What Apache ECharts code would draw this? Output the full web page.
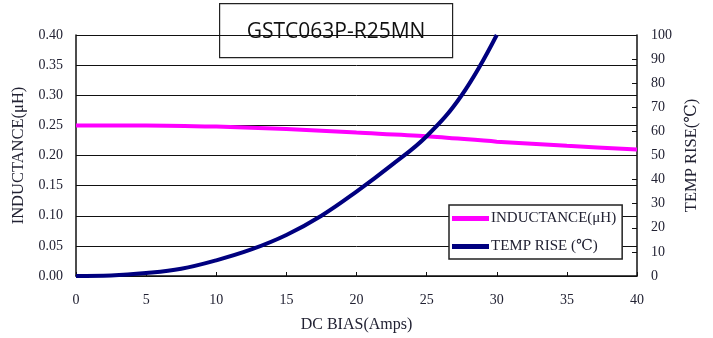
<!DOCTYPE html>
<html>
<head>
<meta charset="utf-8">
<script src="https://cdn.jsdelivr.net/npm/echarts@6/dist/echarts.min.js"></script>
<style>
html,body{margin:0;padding:0;background:#fff;}
#c{width:713px;height:338px;}
</style>
</head>
<body>
<div id="c"></div>
<script>
var chartTitle = 'GSTC063P-R25MN';
var inductanceName = 'INDUCTANCE(μH)';
var tempName = 'TEMP RISE (℃)';
var inductanceData = [[0,0.25],[5,0.25],[10,0.248],[15,0.244],[20,0.238],[25,0.232],[30,0.223],[35,0.216],[40,0.21]];
var tempData = [[0,0],[2.5,0.2],[5,1.2],[7.5,3],[10,6.5],[12.5,11],[15,17],[17.5,25],[20,35],[22.5,46],[25,58],[27.5,75],[30,100]];
var xTicks = {min:0, max:40, interval:5};
var leftTicks = {min:0, max:0.4, interval:0.05};
var rightTicks = {min:0, max:100, interval:10};

var serif = '"Liberation Serif","DejaVu Serif",serif';
var labelColor = '#222233';
var chart = echarts.init(document.getElementById('c'));
chart.setOption({
  animation:false,
  backgroundColor:'#fff',
  grid:{left:76, right:76, top:35, bottom:62},
  legend:{
    orient:'vertical', left:449, top:205,
    padding:[6,6,5,3], itemGap:13,
    backgroundColor:'#fff', borderColor:'#222', borderWidth:1.5,
    icon:'rect', itemWidth:37, itemHeight:5,
    textStyle:{fontFamily:serif, fontSize:15, color:labelColor, padding:[0,0,0,-3]},
    data:[inductanceName, tempName]
  },
  xAxis:{
    type:'value', min:xTicks.min, max:xTicks.max, interval:xTicks.interval,
    name:'DC BIAS(Amps)', nameLocation:'middle', nameGap:41,
    nameTextStyle:{fontFamily:serif, fontSize:16, color:labelColor},
    axisLine:{lineStyle:{color:'#111', width:1.5}},
    axisTick:{inside:true, length:4, lineStyle:{color:'#111'}},
    axisLabel:{fontFamily:serif, fontSize:14, color:labelColor, margin:17},
    splitLine:{show:false}
  },
  yAxis:[{
    type:'value', min:leftTicks.min, max:leftTicks.max, interval:leftTicks.interval,
    name:inductanceName, nameLocation:'middle', nameGap:48, nameRotate:90,
    nameTextStyle:{fontFamily:serif, fontSize:16.5, color:labelColor},
    axisLine:{show:true, lineStyle:{color:'#111', width:1.5}},
    axisTick:{show:false},
    axisLabel:{fontFamily:serif, fontSize:14, color:labelColor, margin:13,
      formatter:function(v){return v.toFixed(2);}},
    splitLine:{show:true, lineStyle:{color:'#111', width:1}}
  },{
    type:'value', position:'right', min:rightTicks.min, max:rightTicks.max, interval:rightTicks.interval,
    name:'TEMP RISE(℃)', nameLocation:'middle', nameGap:45, nameRotate:90,
    nameTextStyle:{fontFamily:serif, fontSize:16.5, color:labelColor},
    axisLine:{show:true, lineStyle:{color:'#111', width:1.5}},
    axisTick:{show:true, inside:true, length:5, lineStyle:{color:'#111'}},
    axisLabel:{fontFamily:serif, fontSize:14, color:labelColor, margin:14},
    splitLine:{show:false}
  }],
  series:[{
    name:inductanceName, type:'line', yAxisIndex:0, data:inductanceData,
    smooth:0.3, showSymbol:false, symbol:'none',
    lineStyle:{color:'#ff00ff', width:4}, itemStyle:{color:'#ff00ff'}, z:3
  },{
    name:tempName, type:'line', yAxisIndex:1, data:tempData,
    smooth:0.4, showSymbol:false, symbol:'none',
    lineStyle:{color:'#00007f', width:4}, itemStyle:{color:'#00007f'}, z:4
  }],
  graphic:[{
    type:'group', left:219, top:3, z:100,
    children:[{
      type:'rect', shape:{x:0,y:0,width:233,height:54},
      style:{fill:'#fff', stroke:'#222', lineWidth:1.2}
    },{
      type:'text', x:116.5, y:28,
      style:{text:chartTitle, fill:'#111', font:'21px "Open Sans","Liberation Sans",sans-serif',
        textAlign:'center', textVerticalAlign:'middle'}
    }]
  }]
});
</script>
</body>
</html>
